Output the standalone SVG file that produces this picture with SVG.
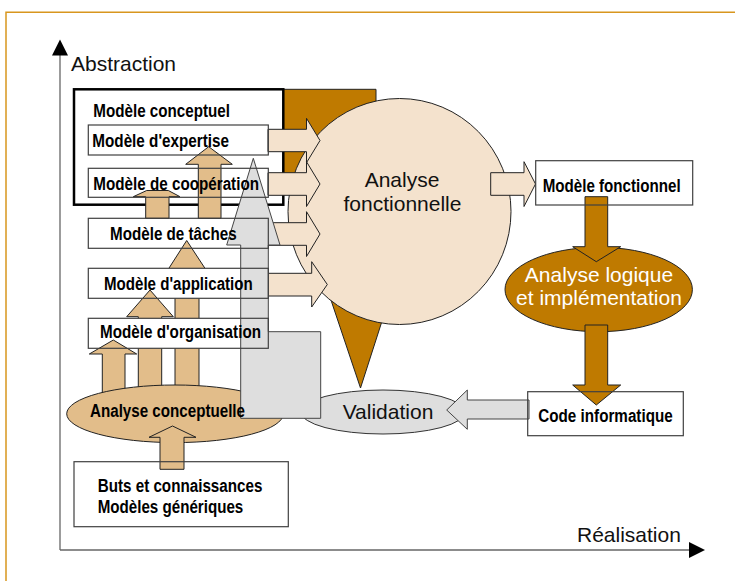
<svg xmlns="http://www.w3.org/2000/svg" width="735" height="581" viewBox="0 0 735 581">
<style>
.box{fill:#fff;stroke:none}
.boxo{fill:none;stroke:#404040;stroke-width:1.2}
.beige{fill:#F4E2CD;stroke:#222;stroke-width:1}
.tan{fill:#E2BD8A;stroke:#222;stroke-width:1}
.brown{fill:#BF7A00;stroke:#222;stroke-width:1}
.grey{fill:#DEDEDE;stroke:#444;stroke-width:1}
.b{font-family:"Liberation Sans",Arial,sans-serif;font-weight:bold;font-size:17.5px;fill:#000}
.r{font-family:"Liberation Sans",Arial,sans-serif;font-size:21px;fill:#111}
.w{font-family:"Liberation Sans",Arial,sans-serif;font-size:21px;fill:#fff}
</style>
<rect width="735" height="581" fill="#fff"/>
<path d="M6,581 V12.3 H735" fill="none" stroke="#D8961E" stroke-width="1.5"/>
<g id="axes">
<line x1="60" y1="55" x2="60" y2="550" stroke="#666" stroke-width="1.3"/>
<line x1="60" y1="550" x2="690" y2="550" stroke="#666" stroke-width="1.3"/>
<polygon points="60,39.5 52,55.5 68,55.5" fill="#000"/>
<polygon points="705,550 689,542 689,558" fill="#000"/>
<text class="r" x="71" y="71">Abstraction</text>
<text class="r" x="577" y="541.7">Réalisation</text>
</g>
<g id="brown-wedge">
<polygon class="brown" points="283,89.3 376,89.3 376,105 420,200 392,290 360.5,388 290,178 283,178"/>
</g>
<g id="modele-conceptuel">
<rect x="74" y="89.3" width="209.3" height="115.4" fill="#fff" stroke="#000" stroke-width="2.5"/>
</g>
<g id="analyse-fonctionnelle">
<ellipse cx="399.5" cy="211.5" rx="111.5" ry="113" fill="#F4E2CD" stroke="#222" stroke-width="1"/>
</g>
<g id="validation">
<ellipse cx="383" cy="412" rx="82" ry="22" fill="#DEDEDE" stroke="#333" stroke-width="1"/>
</g>
<g id="modele-fonctionnel">
<rect x="535.7" y="160.7" width="157" height="44.3" class="box"/>
</g>
<g id="code-informatique">
<rect x="527.7" y="391.7" width="155.6" height="44" class="box"/>
</g>
<g id="analyse-logique">
<ellipse cx="598.7" cy="289.5" rx="93.7" ry="42.2" fill="#BF7A00" stroke="#222" stroke-width="1"/>
</g>
<g id="buts">
<rect x="74" y="461.7" width="214.3" height="65" class="box"/>
</g>
<g id="fills">
<rect id="f-expertise" x="88.3" y="125" width="180" height="30" class="box"/>
<rect id="f-cooperation" x="88.3" y="168.3" width="180" height="29" class="box"/>
<rect id="f-taches" x="88.3" y="218.3" width="180" height="30" class="box"/>
</g>
<g id="connectors">
<polygon class="beige" points="268,129.3 306.5,129.3 306.5,118.3 320,140.5 306.5,162.7 306.5,151.7 268,151.7"/>
<polygon class="beige" points="268,172.7 306.5,172.7 306.5,161.7 320,184 306.5,206.5 306.5,195.3 268,195.3"/>
<polygon class="beige" points="268,222.7 306.5,222.7 306.5,211.7 320,234 306.5,256.5 306.5,245.3 268,245.3"/>
<polygon class="beige" points="268,273.3 311.7,273.3 311.7,261.7 327.3,284.5 311.7,307 311.7,296 268,296"/>
<polygon class="beige" points="490.7,172.7 524,172.7 524,161.7 535.5,184 524,206.5 524,195.3 490.7,195.3"/>
<polygon class="brown" points="585,196.7 607.7,196.7 607.7,246.7 620.7,246.7 596.3,261.7 572.7,246.7 585,246.7"/>
<polygon class="brown" points="585,325 607.7,325 607.7,385 620.7,385 596.3,405 572.7,385 585,385"/>
<polygon class="grey" points="529,400 467.3,400 467.3,390 446.7,410 467.3,429.3 467.3,419 529,419"/>
<polygon class="tan" points="145.7,218.3 145.7,196.7 133.3,196.7 146.7,190.5 168.3,190.5 180,196.7 169,196.7 169,218.3"/>
<polygon class="tan" points="198.3,218.3 198.3,164.3 185.7,164.3 208.7,146.7 232.3,164.3 221,164.3 221,218.3"/>
<polygon class="tan" points="175,400 175,277 163.3,277 186.7,240.5 210.7,277 199,277 199,400"/>
<rect x="88.3" y="268.3" width="180" height="30" class="box"/>
<polygon class="tan" points="138.3,400 138.3,316.7 126.7,316.7 150,290 173.3,316.7 161.7,316.7 161.7,400"/>
<rect x="88.3" y="318.3" width="180" height="30" class="box"/>
<polygon class="tan" points="102.3,400 102.3,354 89.3,354 113.3,340 136.7,354 125,354 125,400"/>
</g>
<g id="analyse-conceptuelle">
<ellipse cx="175" cy="413.8" rx="108.3" ry="28.8" fill="#E2BD8A" stroke="#222" stroke-width="1"/>
</g>
<g id="connectors-2">
<polygon class="tan" points="160,469.3 160,437.3 149,437.3 172.5,426 196,437.3 184,437.3 184,469.3"/>
<polygon class="grey" points="240.7,418.3 320.7,418.3 320.7,331.7 268.3,331.7 268.3,245 280,245 253.3,158.3 226.7,245 240.7,245"/>
</g>
<g id="outlines">
<rect x="88.3" y="125" width="180" height="30" class="boxo"/>
<rect x="88.3" y="168.3" width="180" height="29" class="boxo"/>
<rect x="88.3" y="218.3" width="180" height="30" class="boxo"/>
<rect x="88.3" y="268.3" width="180" height="30" class="boxo"/>
<rect x="88.3" y="318.3" width="180" height="30" class="boxo"/>
<rect x="535.7" y="160.7" width="157" height="44.3" class="boxo"/>
<rect x="527.7" y="391.7" width="155.6" height="44" class="boxo"/>
<rect x="74" y="461.7" width="214.3" height="65" class="boxo"/>
</g>
<g id="labels">
<text class="b" x="93.3" y="116.7" textLength="136.7" lengthAdjust="spacingAndGlyphs">Modèle conceptuel</text>
<text class="b" x="92.3" y="146.7" textLength="136.7" lengthAdjust="spacingAndGlyphs">Modèle d'expertise</text>
<text class="b" x="93.3" y="190" textLength="165.7" lengthAdjust="spacingAndGlyphs">Modèle de coopération</text>
<text class="b" x="110" y="239.5" textLength="126.7" lengthAdjust="spacingAndGlyphs">Modèle de tâches</text>
<text class="b" x="104" y="289.5" textLength="148.7" lengthAdjust="spacingAndGlyphs">Modèle d'application</text>
<text class="b" x="100" y="337.5" textLength="161" lengthAdjust="spacingAndGlyphs">Modèle d'organisation</text>
<text class="b" x="90" y="416.7" textLength="155" lengthAdjust="spacingAndGlyphs">Analyse conceptuelle</text>
<text class="b" x="97.7" y="491.7" textLength="164.7" lengthAdjust="spacingAndGlyphs">Buts et connaissances</text>
<text class="b" x="97.7" y="513.3" textLength="145.6" lengthAdjust="spacingAndGlyphs">Modèles génériques</text>
<text class="b" x="542.7" y="191.7" textLength="138" lengthAdjust="spacingAndGlyphs">Modèle fonctionnel</text>
<text class="b" x="538.3" y="421.7" textLength="134.4" lengthAdjust="spacingAndGlyphs">Code informatique</text>
<text class="r" x="402" y="187.3" text-anchor="middle">Analyse</text>
<text class="r" x="402.5" y="210.7" text-anchor="middle">fonctionnelle</text>
<text class="w" x="599" y="281.7" text-anchor="middle">Analyse logique</text>
<text class="w" x="599" y="305" text-anchor="middle">et implémentation</text>
<text class="r" x="388" y="419" text-anchor="middle">Validation</text>
</g>
</svg>
